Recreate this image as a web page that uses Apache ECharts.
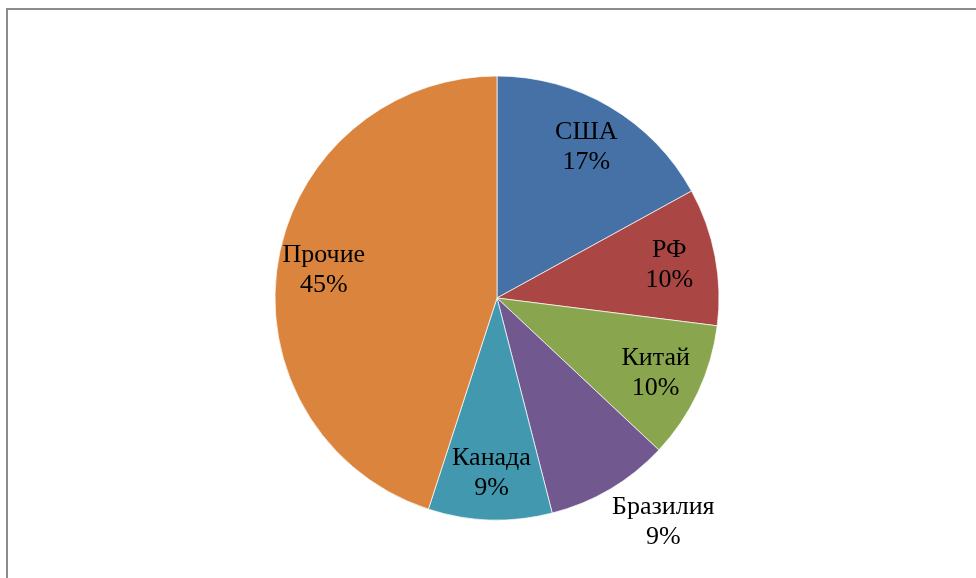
<!DOCTYPE html>
<html>
<head>
<meta charset="utf-8">
<script src="https://cdn.jsdelivr.net/npm/echarts@6/dist/echarts.min.js"></script>
<style>
  html, body { margin: 0; padding: 0; background: #fff; }
  #chart { width: 976px; height: 578px; }
</style>
</head>
<body>
<div id="chart"></div>
<script>
// данные
const countries = ["США", "РФ", "Китай", "Бразилия", "Канада", "Прочие"];
const shares = [17, 10, 10, 9, 9, 45];
const colors = ["#4571a6", "#aa4643", "#89a54e", "#71588f", "#4198af", "#db843d"];
const outsideLabels = ["Бразилия"];

const cx = 497, cy = 298, R = 222;

const chart = echarts.init(document.getElementById("chart"));

chart.setOption({
  animation: false,
  graphic: [
    {
      type: "rect",
      shape: { x: 7, y: 9, width: 1000, height: 600 },
      style: { fill: "none", stroke: "#8c8c8c", lineWidth: 2 },
      silent: true,
    },
  ],
  series: [
    {
      type: "pie",
      center: [cx, cy],
      radius: R,
      startAngle: 90,
      clockwise: true,
      itemStyle: { borderColor: "#ffffff", borderWidth: 0.7 },
      label: {
        show: true,
        position: "inside",
        formatter: "{b}\n{d}%",
        fontFamily: "Liberation Serif",
        fontSize: 26,
        lineHeight: 30,
        color: "#000",
      },
      labelLine: { show: false },
      labelLayout: (params) => {
        // сдвигаем подписи вдоль радиуса, как в Excel
        const r = params.labelRect;
        const lx = r.x + r.width / 2;
        const ly = r.y + r.height / 2;
        const dx = lx - cx, dy = ly - cy;
        const d = Math.sqrt(dx * dx + dy * dy) || 1;
        if (outsideLabels.includes(countries[params.dataIndex])) {
          // угол подписи касается края круга
          const ex = cx + (dx / d) * (R + 4);
          const ey = cy + (dy / d) * (R + 4);
          return {
            x: ex + Math.sign(dx) * r.width / 2,
            y: ey + Math.sign(dy) * r.height / 2,
          };
        }
        const k = 0.79 * R;
        return { x: cx + (dx / d) * k, y: cy + (dy / d) * k };
      },
      data: countries.map((name, i) => ({
        name,
        value: shares[i],
        itemStyle: { color: colors[i] },
      })),
    },
  ],
});
</script>
</body>
</html>
